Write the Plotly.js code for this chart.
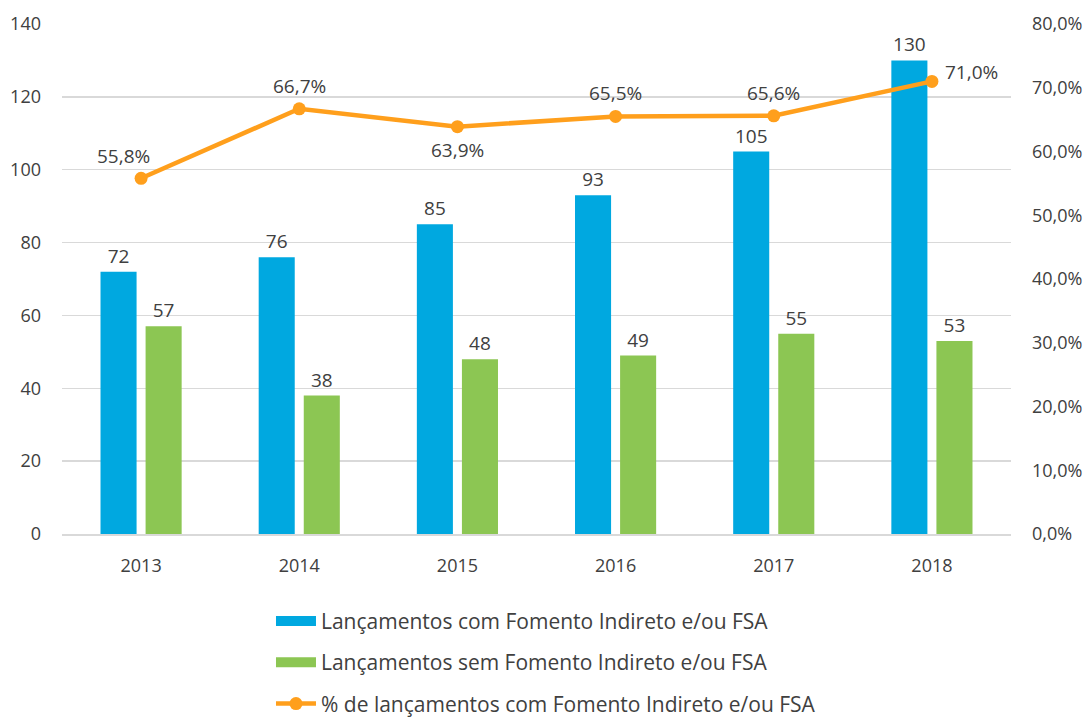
<!DOCTYPE html>
<html><head><meta charset="utf-8">
<script src="https://cdn.plot.ly/plotly-3.0.1.min.js"></script>
<style>html,body{margin:0;padding:0;background:#fff;}#chart{width:1087px;height:717px;}</style>
</head><body><div id="chart"></div>
<script>
const years = ['2013','2014','2015','2016','2017','2018'];
const comFomento = [72, 76, 85, 93, 105, 130];
const semFomento = [57, 38, 48, 49, 55, 53];
const pctCom = [55.8, 66.7, 63.9, 65.5, 65.6, 71.0];
const pctLabelPos = ['tl', 't', 'b', 't', 't', 'r'];

const names = ['Lançamentos com Fomento Indireto e/ou FSA',
               'Lançamentos sem Fomento Indireto e/ou FSA',
               '% de lançamentos com Fomento Indireto e/ou FSA'];
const FONT = 'Open Sans, Noto Sans, sans-serif';
const TXT = '#404040';
const BLUE = '#00A8E0', GREEN = '#8CC653', ORANGE = '#FF9F1C';

const fmt = v => v.toFixed(1).replace('.', ',') + '%';

const traces = [
  {type:'bar', x:years, y:comFomento, name:names[0], marker:{color:BLUE},
   text:comFomento.map(String), textposition:'outside', textfont:{size:19,color:TXT,family:FONT},
   cliponaxis:false, showlegend:false},
  {type:'bar', x:years, y:semFomento, name:names[1], marker:{color:GREEN},
   text:semFomento.map(String), textposition:'outside', textfont:{size:19,color:TXT,family:FONT},
   cliponaxis:false, showlegend:false},
  {type:'scatter', mode:'lines+markers', x:years, y:pctCom, yaxis:'y2', name:names[2],
   line:{color:ORANGE, width:4.5}, marker:{color:ORANGE, size:13}, showlegend:false},
  // legend-only entries (swatches)
  {type:'scatter', mode:'lines', x:[null], y:[null], name:names[0], line:{color:BLUE, width:14}, legendgroup:'a'},
  {type:'scatter', mode:'lines', x:[null], y:[null], name:names[1], line:{color:GREEN, width:14}, legendgroup:'b'},
  {type:'scatter', mode:'lines+markers', x:[null], y:[null], yaxis:'y2', name:names[2],
   line:{color:ORANGE, width:4.5}, marker:{color:ORANGE, size:13}, legendgroup:'c'}
];

const shiftMap = {tl:[-18,22], t:[0,23], b:[0,-23], r:[40,9]};
const annotations = pctCom.map((v,i)=>({
  x: i, y: v, xref:'x', yref:'y2', text: fmt(v), showarrow:false,
  xshift: shiftMap[pctLabelPos[i]][0], yshift: shiftMap[pctLabelPos[i]][1],
  font:{size:19,color:TXT,family:FONT}
}));

const layout = {
  width:1087, height:717,
  margin:{l:62, r:76, t:24, b:183},
  paper_bgcolor:'#fff', plot_bgcolor:'#fff',
  font:{family:FONT, color:'#595959'},
  barmode:'group', bargap:0.43, bargroupgap:0.2,
  xaxis:{type:'category', range:[-0.5,5.5], autorange:false, showgrid:false, showline:true, linecolor:'#D9D9D9', linewidth:2,
         tickfont:{size:18,color:TXT}, ticks:'', zeroline:false, ticklabelstandoff:14},
  yaxis:{range:[0,140], dtick:20, showgrid:true, gridcolor:'#D9D9D9', gridwidth:1.5,
         zeroline:false, tickfont:{size:18,color:TXT}, ticklabelstandoff:20},
  yaxis2:{range:[0,80], dtick:10, overlaying:'y', side:'right', showgrid:false, zeroline:false,
          tickformat:'.1f', ticksuffix:'%', tickfont:{size:18,color:TXT}, ticklabelstandoff:20},
  separators:',.',
  showlegend:true,
  legend:{orientation:'v', x:0.51, xanchor:'center', yref:'container', y:0.162, yanchor:'top',
          font:{size:21,color:TXT,family:FONT}, traceorder:'grouped', tracegroupgap:11, itemwidth:40},
  annotations: annotations
};

Plotly.newPlot('chart', traces, layout, {displayModeBar:false, staticPlot:true});
</script></body></html>
